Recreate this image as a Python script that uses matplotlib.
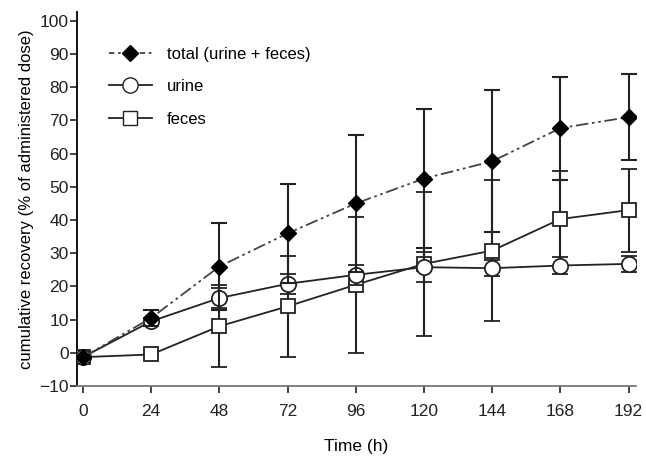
import numpy as np
import matplotlib
matplotlib.use("Agg")
import matplotlib.pyplot as plt
from matplotlib.lines import Line2D

plt.rcParams['font.family'] = ['Liberation Sans', 'DejaVu Sans']

# time points (h)
time = [0, 24, 48, 72, 96, 120, 144, 168, 192]

# cumulative recovery (% of administered dose), mean and SD
total = [-1.3, 10.5, 26.0, 36.0, 45.0, 52.5, 57.7, 67.7, 71.0]
total_sd = [0, 2.3, 13.0, 15.0, 20.5, 21.0, 21.4, 15.5, 13.0]
urine = [-1.3, 9.5, 16.5, 20.8, 23.5, 25.8, 25.5, 26.3, 26.8]
urine_sd = [0, 1.0, 3.0, 3.0, 3.0, 4.5, 2.5, 2.5, 2.5]
feces = [-1.3, -0.5, 8.0, 14.0, 20.5, 26.8, 30.8, 40.3, 43.0]
feces_sd = [0, 0, 12.4, 15.3, 20.5, 21.6, 21.3, 14.5, 12.5]

fig = plt.figure(figsize=(6.46, 4.59), dpi=100)
ax = fig.add_axes([0.1192, 0.159, 0.8653, 0.815])

lc = '#222222'
dd = (7, 2, 1.5, 2, 1.5, 2)
ax.errorbar(time, feces, yerr=feces_sd, color=lc, lw=1.3, marker='s', ms=10,
            mfc='white', mec=lc, mew=1.3, ecolor=lc, elinewidth=1.5, capsize=5.5,
            capthick=1.5, zorder=3)
ax.errorbar(time, urine, yerr=urine_sd, color=lc, lw=1.3, marker='o', ms=11,
            mfc='white', mec=lc, mew=1.3, ecolor=lc, elinewidth=1.5, capsize=5.5,
            capthick=1.5, zorder=4)
ax.errorbar(time, total, yerr=total_sd, color='#444444', lw=1.3, marker='D', ms=8,
            mfc='black', mec='black', ecolor=lc, elinewidth=1.5, capsize=5.5,
            capthick=1.5, dashes=dd, zorder=5)

ax.set_xlim(-2.1, 194.6)
ax.set_ylim(-10, 102.7)
ax.set_xticks(time)
ax.set_yticks(np.arange(-10, 101, 10))
for s in ['top', 'right']:
    ax.spines[s].set_visible(False)
ax.spines['left'].set_linewidth(1.3)
ax.spines['bottom'].set_color('#777777')
ax.spines['bottom'].set_linewidth(1.3)
ax.tick_params(direction='out', length=5, width=1.2, labelsize=12.5, colors='#222222')
ax.tick_params(axis='x', pad=8)
ax.tick_params(axis='y', pad=1)

ax.set_xlabel('Time (h)', fontsize=12.5, labelpad=14)
ax.set_ylabel('cumulative recovery (% of administered dose)', fontsize=12, labelpad=4)

handles = [
    Line2D([], [], color='#444444', lw=1.3, dashes=(3, 2, 1.5, 2), marker='D', ms=8,
           mfc='black', mec='black'),
    Line2D([], [], color=lc, lw=1.3, marker='o', ms=11, mfc='white', mec=lc),
    Line2D([], [], color=lc, lw=1.3, marker='s', ms=10, mfc='white', mec=lc),
]
labels = ['total (urine + feces)', 'urine', 'feces']
ax.legend(handles, labels, loc='upper left', bbox_to_anchor=(0.03, 0.947), frameon=False,
          fontsize=12, handlelength=2.6, labelspacing=1.05, handletextpad=0.9)

fig.savefig('out.png', dpi=100)
